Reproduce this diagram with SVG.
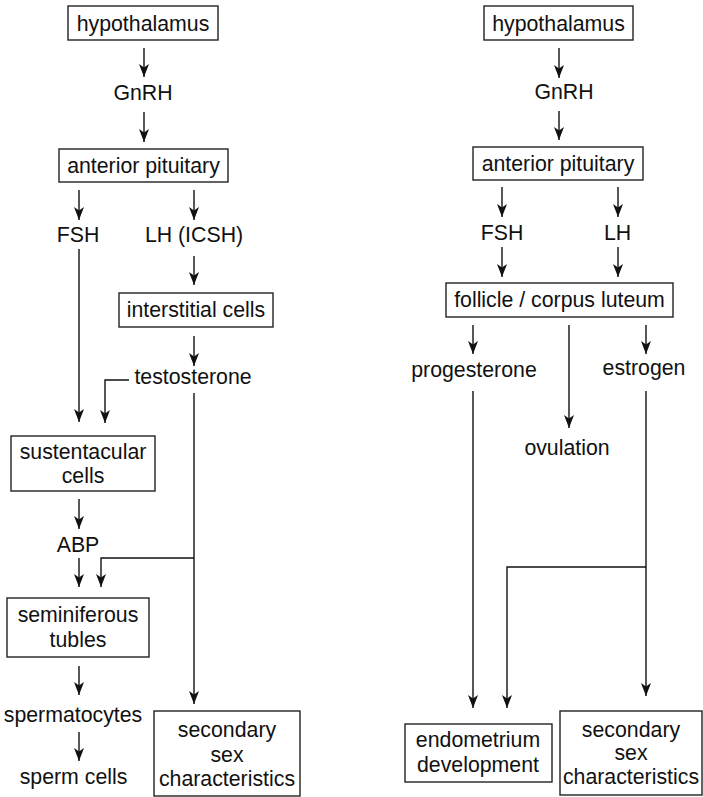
<svg xmlns="http://www.w3.org/2000/svg" width="703" height="797" viewBox="0 0 703 797">
<style>
.box{fill:#fff;stroke:#222;stroke-width:1.4}
.t{font-family:"Liberation Sans",Arial,Helvetica,sans-serif;font-size:21.3px;fill:#111;text-anchor:middle}
.c{fill:none;stroke:#111;stroke-width:1.4}
</style>
<defs>
<marker id="ah" viewBox="-14 -6 15 12" markerWidth="15" markerHeight="12" refX="0" refY="0" orient="auto" markerUnits="userSpaceOnUse">
<path d="M0,0 L-13,-5 L-9.5,0 L-13,5 z" fill="#111"/>
</marker>
</defs>
<rect width="703" height="797" fill="#fff"/>
<g id="connectors">
<line class="c" x1="144" y1="48" x2="144" y2="77" marker-end="url(#ah)"/>
<line class="c" x1="144" y1="112" x2="144" y2="142" marker-end="url(#ah)"/>
<line class="c" x1="79" y1="190" x2="79" y2="220" marker-end="url(#ah)"/>
<line class="c" x1="194" y1="190" x2="194" y2="220" marker-end="url(#ah)"/>
<line class="c" x1="79" y1="249" x2="79" y2="422" marker-end="url(#ah)"/>
<line class="c" x1="194" y1="256" x2="194" y2="285" marker-end="url(#ah)"/>
<line class="c" x1="194" y1="336" x2="194" y2="366" marker-end="url(#ah)"/>
<polyline class="c" points="129,380 105,380 105,423" marker-end="url(#ah)"/>
<line class="c" x1="194" y1="393" x2="194" y2="704" marker-end="url(#ah)"/>
<polyline class="c" points="194,558 101,558 101,587" marker-end="url(#ah)"/>
<line class="c" x1="79" y1="499" x2="79" y2="529" marker-end="url(#ah)"/>
<line class="c" x1="79" y1="558" x2="79" y2="587" marker-end="url(#ah)"/>
<line class="c" x1="79" y1="666" x2="79" y2="695" marker-end="url(#ah)"/>
<line class="c" x1="79" y1="732" x2="79" y2="761" marker-end="url(#ah)"/>
<line class="c" x1="559" y1="48" x2="559" y2="78" marker-end="url(#ah)"/>
<line class="c" x1="559" y1="111" x2="559" y2="140" marker-end="url(#ah)"/>
<line class="c" x1="502" y1="187" x2="502" y2="217" marker-end="url(#ah)"/>
<line class="c" x1="618" y1="187" x2="618" y2="217" marker-end="url(#ah)"/>
<line class="c" x1="502" y1="247" x2="502" y2="277" marker-end="url(#ah)"/>
<line class="c" x1="618" y1="247" x2="618" y2="277" marker-end="url(#ah)"/>
<line class="c" x1="473" y1="325" x2="473" y2="354" marker-end="url(#ah)"/>
<line class="c" x1="569" y1="325" x2="569" y2="428" marker-end="url(#ah)"/>
<line class="c" x1="646" y1="325" x2="646" y2="354" marker-end="url(#ah)"/>
<line class="c" x1="473" y1="391" x2="473" y2="708" marker-end="url(#ah)"/>
<line class="c" x1="646" y1="391" x2="646" y2="696" marker-end="url(#ah)"/>
<polyline class="c" points="646,567 507,567 507,708" marker-end="url(#ah)"/>
</g>
<g id="L-hypothalamus"><rect class="box" x="68" y="6" width="150" height="34"/><text class="t" x="143" y="31">hypothalamus</text></g>
<g id="L-gnrh"><text class="t" x="143" y="100">GnRH</text></g>
<g id="L-anterior-pituitary"><rect class="box" x="59" y="149" width="169" height="33"/><text class="t" x="143.5" y="173">anterior pituitary</text></g>
<g id="L-fsh"><text class="t" x="78" y="242">FSH</text></g>
<g id="L-lh"><text class="t" x="194" y="242">LH (ICSH)</text></g>
<g id="L-interstitial"><rect class="box" x="119" y="293" width="154" height="34"/><text class="t" x="196" y="317">interstitial cells</text></g>
<g id="L-testosterone"><text class="t" x="193" y="384">testosterone</text></g>
<g id="L-sustentacular"><rect class="box" x="11" y="436" width="144" height="55"/><text class="t" x="83" y="459">sustentacular</text><text class="t" x="83" y="483">cells</text></g>
<g id="L-abp"><text class="t" x="78" y="552">ABP</text></g>
<g id="L-seminiferous"><rect class="box" x="7" y="598" width="142" height="59"/><text class="t" x="78" y="622">seminiferous</text><text class="t" x="78" y="647">tubles</text></g>
<g id="L-spermatocytes"><text class="t" x="73" y="722">spermatocytes</text></g>
<g id="L-sperm-cells"><text class="t" x="73.5" y="784">sperm cells</text></g>
<g id="L-secondary"><rect class="box" x="154" y="711" width="146" height="85"/><text class="t" x="227" y="737">secondary</text><text class="t" x="227" y="762">sex</text><text class="t" x="227" y="786">characteristics</text></g>
<g id="R-hypothalamus"><rect class="box" x="484" y="6" width="149" height="34"/><text class="t" x="558.5" y="31">hypothalamus</text></g>
<g id="R-gnrh"><text class="t" x="564" y="99">GnRH</text></g>
<g id="R-anterior-pituitary"><rect class="box" x="473" y="147" width="170" height="33"/><text class="t" x="558" y="171">anterior pituitary</text></g>
<g id="R-fsh"><text class="t" x="502" y="240">FSH</text></g>
<g id="R-lh"><text class="t" x="617.5" y="240">LH</text></g>
<g id="R-follicle"><rect class="box" x="446" y="283" width="227" height="34"/><text class="t" x="559.5" y="307">follicle / corpus luteum</text></g>
<g id="R-progesterone"><text class="t" x="474" y="377">progesterone</text></g>
<g id="R-estrogen"><text class="t" x="644" y="375">estrogen</text></g>
<g id="R-ovulation"><text class="t" x="567" y="455">ovulation</text></g>
<g id="R-endometrium"><rect class="box" x="405" y="724" width="147" height="58"/><text class="t" x="478" y="747">endometrium</text><text class="t" x="478" y="772">development</text></g>
<g id="R-secondary"><rect class="box" x="560" y="711" width="142" height="84"/><text class="t" x="631" y="737">secondary</text><text class="t" x="631" y="760">sex</text><text class="t" x="631" y="784">characteristics</text></g>
</svg>
